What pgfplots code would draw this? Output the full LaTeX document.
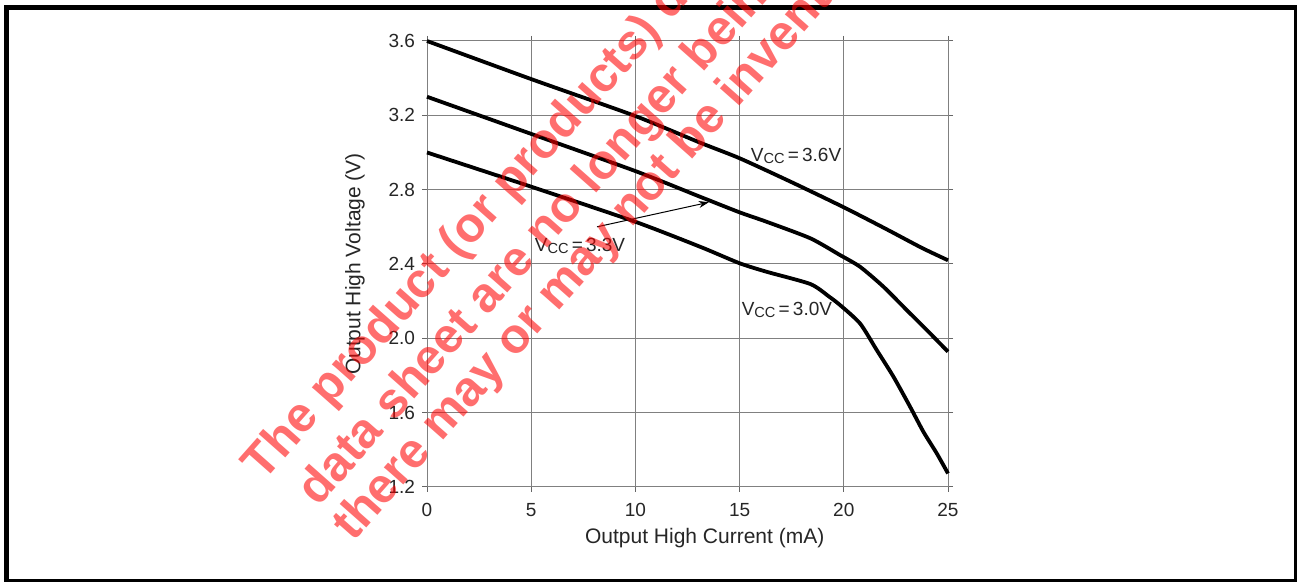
\documentclass[border=0pt]{standalone}
\usepackage{fontspec}
\setmainfont{Liberation Sans}
\usepackage{pgfplots}
\pgfplotsset{compat=1.18}
\usetikzlibrary{arrows.meta}
\newcommand{\vcc}[1]{V\raisebox{-0.25ex}{\fontsize{7.3}{8}\selectfont CC}\,=\,#1}
\begin{document}
\begin{tikzpicture}
\useasboundingbox (0,0) rectangle (649pt,291pt);
\fill[white] (0,0) rectangle (649pt,291pt);
\begin{axis}[
  at={(213.5pt,47.5pt)}, anchor=south west,
  scale only axis, width=260.5pt, height=223pt,
  xmin=0, xmax=25, ymin=1.2, ymax=3.6,
  xtick={0,5,10,15,20,25},
  ytick={1.2,1.6,2.0,2.4,2.8,3.2,3.6},
  yticklabel style={/pgf/number format/fixed,/pgf/number format/fixed zerofill,/pgf/number format/precision=1},
  /pgf/number format/assume math mode=true,
  tick label style={font=\fontsize{9.5}{11}\selectfont, text=black!85},
  label style={font=\fontsize{10.5}{12}\selectfont, text=black!85},
  xlabel={Output High Current (mA)},
  ylabel={Output High Voltage (V)},
  xlabel style={at={(axis description cs:0.533,-0.1143)}, anchor=center},
  ylabel style={at={(axis description cs:-0.1382,0.5)}, anchor=center},
  grid=major,
  major grid style={draw=black!50, line width=0.5pt},
  axis line style={draw=black!50, line width=0.5pt},
  tick style={draw=black!60, line width=0.5pt},
  tick align=outside, major tick length=2.5pt,
  xticklabel style={yshift=-2pt},
  clip=false,
]
% Vcc = 3.6 V
\addplot[black, line width=1.9pt, smooth, tension=0.4] coordinates {
 (0,3.600) (5,3.395) (10,3.196) (13.1,3.053) (15,2.969) (17.5,2.840)
 (20,2.705) (22,2.590) (23.74,2.487) (25,2.420)};
% Vcc = 3.3 V
\addplot[black, line width=1.9pt, smooth, tension=0.4] coordinates {
 (0,3.300) (5,3.100) (10,2.900) (13.1,2.762) (15,2.678) (16.3,2.627)
 (18.4,2.538) (19.82,2.448) (20.78,2.385) (21.9,2.278) (23.02,2.152)
 (23.98,2.045) (25,1.928)};
% Vcc = 3.0 V
\addplot[black, line width=1.9pt, smooth, tension=0.4] coordinates {
 (0,3.000) (5,2.816) (10,2.627) (13.1,2.493) (15,2.404) (16.3,2.358)
 (18.4,2.292) (19.3,2.224) (19.82,2.179) (20.78,2.080) (21.58,1.937)
 (22.38,1.794) (23.18,1.632) (23.82,1.497) (24.46,1.381) (25,1.273)};
\draw[black, line width=0.5pt, -{Stealth[length=5pt,width=3.5pt]}] (axis cs:8.16,2.60) -- (axis cs:13.52,2.732);
\node[font=\fontsize{9.5}{11}\selectfont, text=black!85] at (axis cs:17.71,2.981) {\vcc{3.6V}};
\node[font=\fontsize{9.5}{11}\selectfont, text=black!85] at (axis cs:7.34,2.497) {\vcc{3.3V}};
\node[font=\fontsize{9.5}{11}\selectfont, text=black!85] at (axis cs:17.27,2.152) {\vcc{3.0V}};
\end{axis}
% frame
\fill[black] (1.75pt,286pt) rectangle (648.7pt,288.5pt);
\fill[black] (1.75pt,0pt) rectangle (4.5pt,288.5pt);
\fill[black] (647.2pt,0pt) rectangle (648.7pt,288.5pt);
\fill[black] (1.75pt,0pt) rectangle (648.7pt,1.35pt);
% watermark
\begin{scope}
\clip (0,0) rectangle (649pt,291pt);
\tikzset{wm/.style={rotate=48.5, anchor=base west, inner sep=0pt, text=red, text opacity=0.57, font=\bfseries\fontsize{24.5}{29}\selectfont}}
\node[wm] at (131.5pt,49.5pt) {The product (or products) described in this};
\node[wm] at (159pt,37pt) {data sheet are no longer being manufactured.};
\node[wm] at (176.5pt,19.5pt) {there may or may not be inventory available.};
\end{scope}
\end{tikzpicture}
\end{document}
